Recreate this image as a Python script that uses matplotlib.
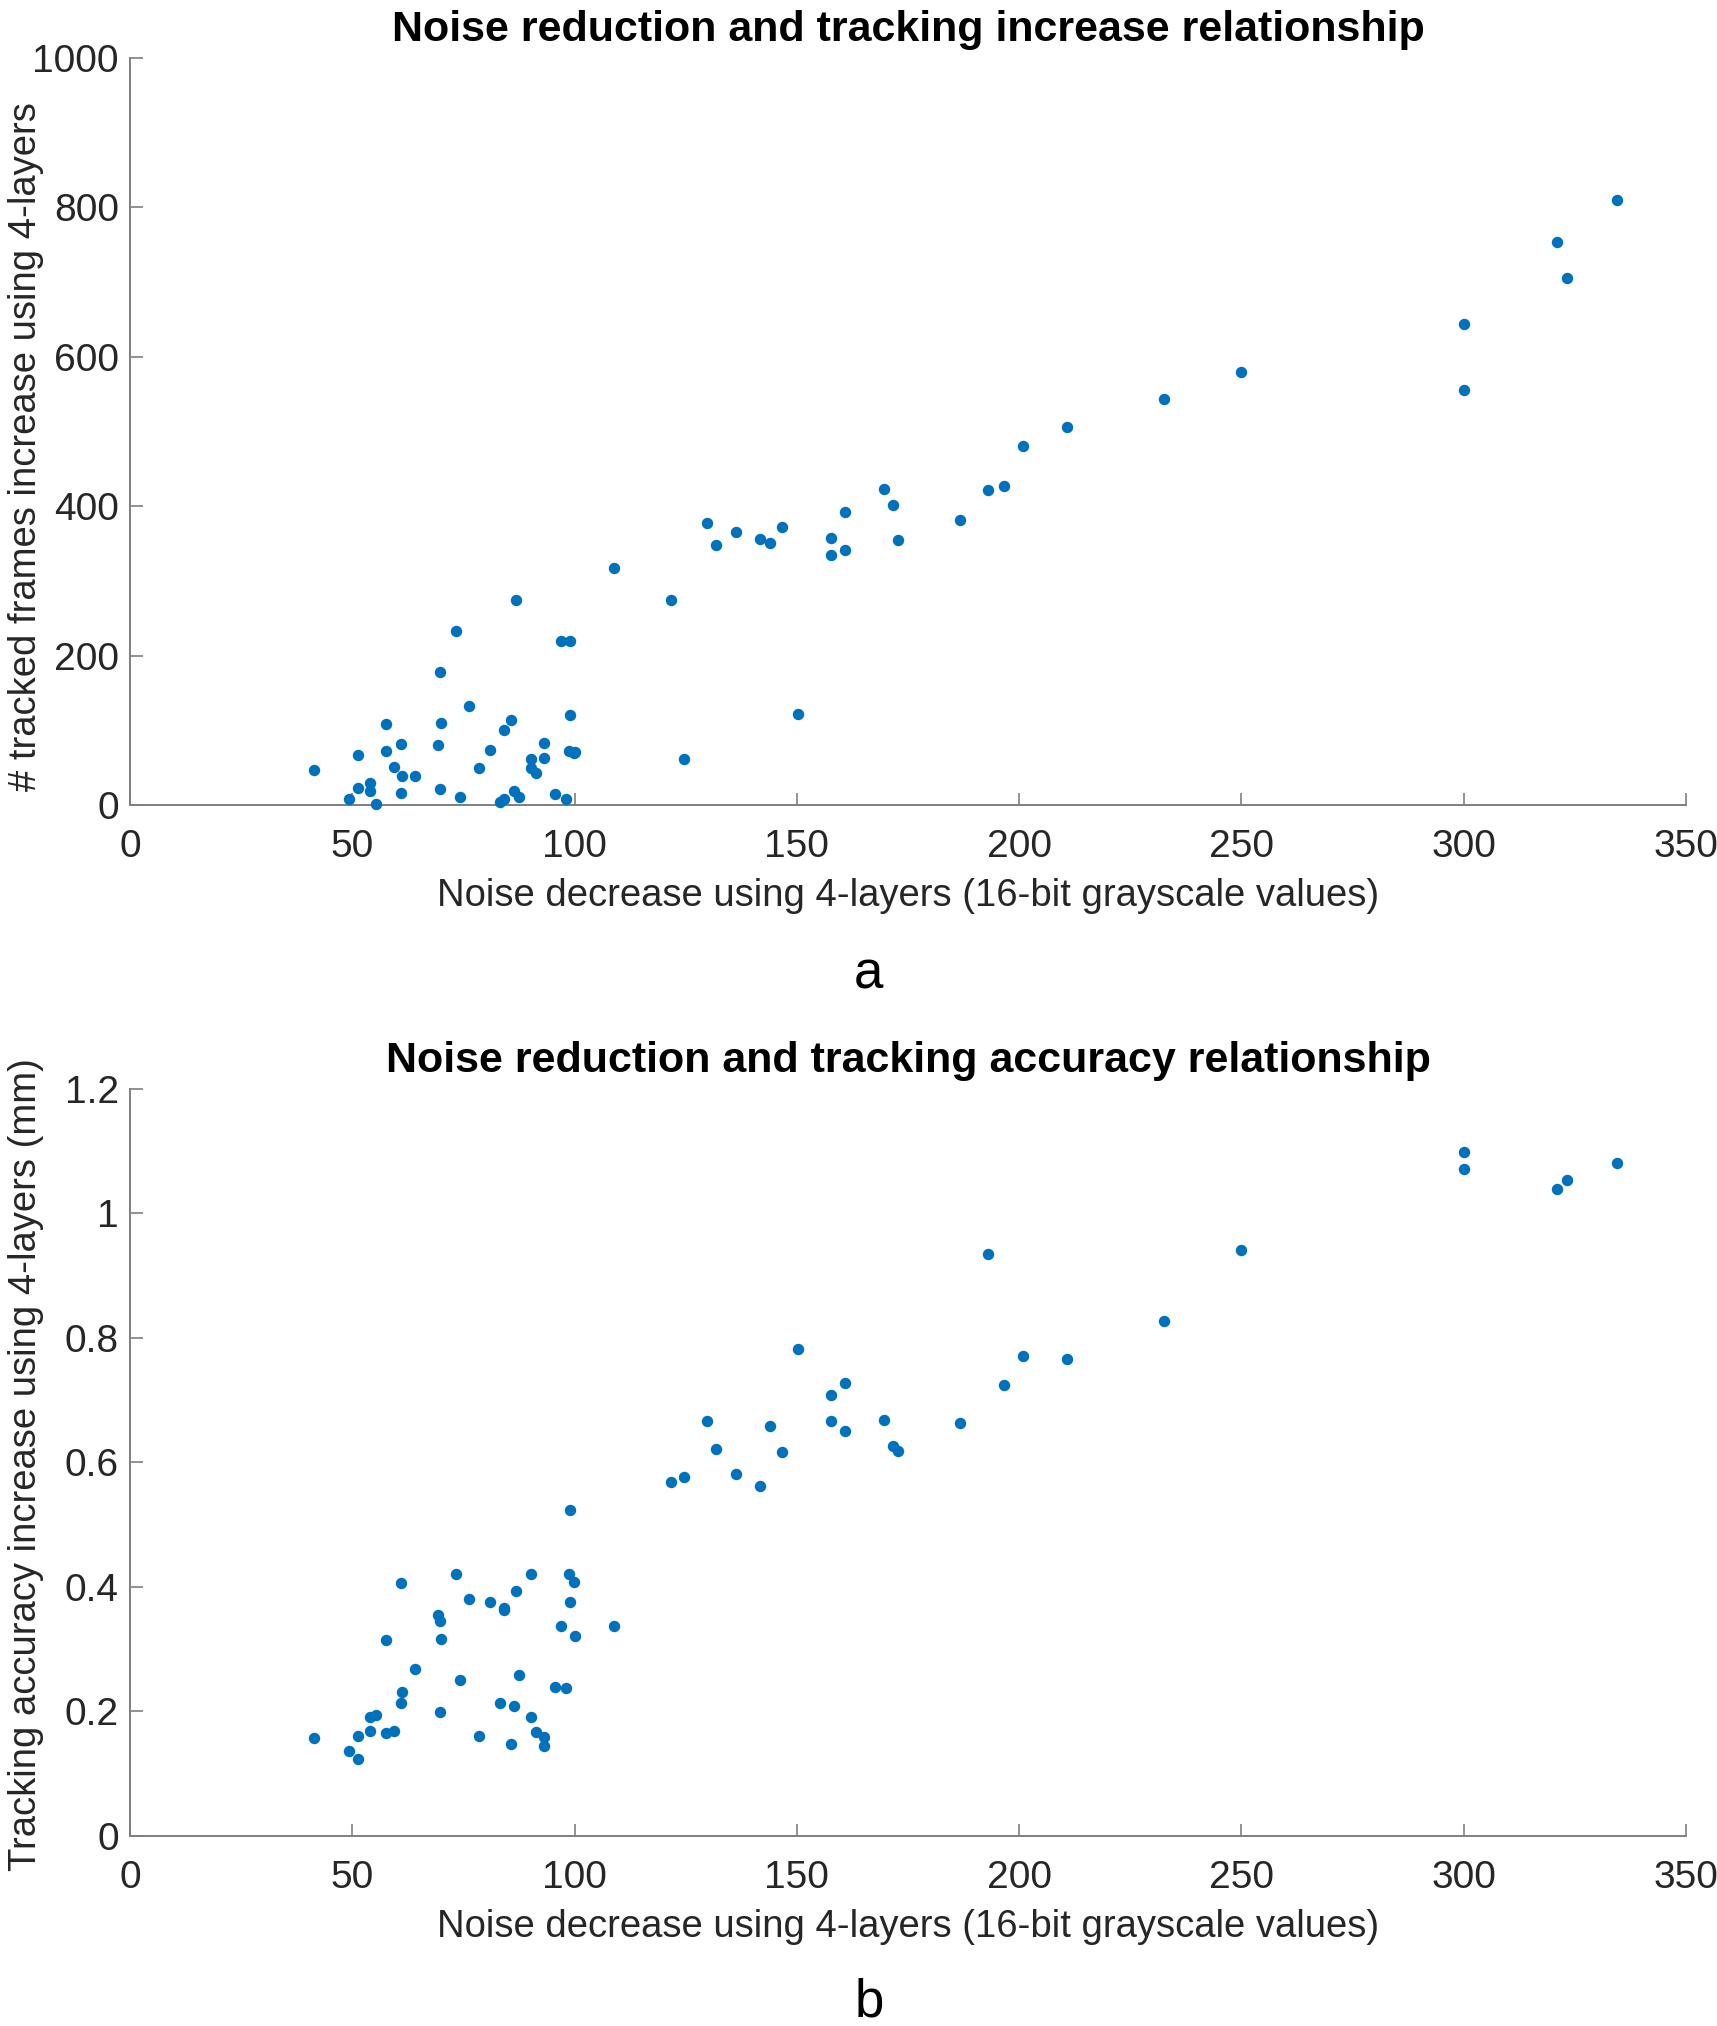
import matplotlib.pyplot as plt
from matplotlib.ticker import FuncFormatter

# noise decrease (shared x for both panels)
noise = [41.3, 49.2, 51.3, 51.3, 54.1, 54.1, 55.3, 57.7, 57.7, 59.3,
         60.9, 60.9, 61.2, 64.2, 69.4, 69.7, 69.7, 70.0, 73.4, 74.2,
         76.3, 78.5, 80.9, 83.2, 84.2, 84.2, 85.6, 86.4, 86.9, 87.4,
         90.2, 90.2, 91.4, 93.1, 93.1, 95.7, 96.9, 98.1, 98.7, 99.0,
         99.0, 99.9, 100.0, 108.8,
         121.8, 124.6, 129.7, 131.9, 136.3, 141.8, 143.9, 146.6, 150.3, 157.6,
         157.6, 160.8, 160.8, 169.6, 171.7, 172.8, 186.8, 193.0, 196.7, 200.8,
         210.8, 232.6, 249.9, 300.1, 300.1, 321.0, 323.2, 334.6]

# tracked frames increase (panel a)
frames = [47, 8, 67, 23, 29, 19, 1, 109, 72, 51,
          81, 16, 39, 39, 80, 178, 21, 110, 233, 10,
          132, 49, 74, 4, 100, 8, 114, 19, 275, 10,
          62, 49, 43, 83, 63, 14, 220, 8, 72, 220,
          121, 69, 71, 317,
          275, 61, 378, 348, 365, 356, 350, 372, 122, 357,
          335, 392, 341, 423, 401, 355, 381, 421, 427, 481,
          506, 544, 579, 556, 644, 754, 706, 810]

# tracking accuracy increase in mm (panel b)
accuracy = [0.158, 0.137, 0.161, 0.124, 0.191, 0.169, 0.195, 0.315, 0.165, 0.169,
            0.406, 0.213, 0.232, 0.269, 0.355, 0.345, 0.199, 0.317, 0.421, 0.250,
            0.381, 0.161, 0.376, 0.213, 0.367, 0.363, 0.148, 0.208, 0.393, 0.258,
            0.421, 0.191, 0.167, 0.159, 0.144, 0.239, 0.337, 0.237, 0.421, 0.523,
            0.376, 0.408, 0.322, 0.337,
            0.569, 0.577, 0.667, 0.621, 0.581, 0.563, 0.658, 0.617, 0.783, 0.708,
            0.667, 0.727, 0.650, 0.669, 0.627, 0.619, 0.663, 0.935, 0.725, 0.771,
            0.766, 0.827, 0.941, 1.098, 1.071, 1.039, 1.054, 1.081]

plt.rcParams['font.family'] = ['Liberation Sans', 'DejaVu Sans']
blue = '#0072BD'
axcol = '#262626'
xlab = 'Noise decrease using 4-layers (16-bit grayscale values)'

fig = plt.figure(figsize=(17.17, 20.26), dpi=100)
ax1 = fig.add_axes([0.0757, 0.6027, 0.9062, 0.3687])
ax2 = fig.add_axes([0.0757, 0.0938, 0.9062, 0.3687])

panels = [
    (ax1, frames, 'Noise reduction and tracking increase relationship',
     '# tracked frames increase using 4-layers', (0, 1000), [0, 200, 400, 600, 800, 1000], 0.48),
    (ax2, accuracy, 'Noise reduction and tracking accuracy relationship',
     'Tracking accuracy increase using 4-layers (mm)', (0, 1.2), [0, 0.2, 0.4, 0.6, 0.8, 1.0, 1.2], 0.497),
]

for ax, yv, title, ylab, ylim, yticks, ly in panels:
    ax.scatter(noise, yv, s=52, color=blue, zorder=3, clip_on=False)
    ax.set_xlim(0, 350)
    ax.set_ylim(*ylim)
    ax.set_xticks([0, 50, 100, 150, 200, 250, 300, 350])
    ax.set_yticks(yticks)
    ax.yaxis.set_major_formatter(FuncFormatter(lambda v, p: f'{v:g}'))
    for side in ['top', 'right']:
        ax.spines[side].set_visible(False)
    for side in ['left', 'bottom']:
        ax.spines[side].set_color('#7f7f7f')
        ax.spines[side].set_linewidth(1.4)
    ax.tick_params(direction='in', length=9, width=1.2, color='#7f7f7f',
                   labelsize=28, labelcolor=axcol)
    ax.tick_params(axis='x', pad=17)
    ax.tick_params(axis='y', pad=8)
    ax.set_title(title, fontsize=31, fontweight='bold', color='black', pad=12)
    ax.set_xlabel(xlab, fontsize=27.5, color=axcol, labelpad=10)
    ax.set_ylabel(ylab, fontsize=27.5, color=axcol)
    ax.yaxis.set_label_coords(-0.0555, ly)

fig.text(0.5055, 0.519, 'a', fontsize=38, ha='center', va='center', color='black')
fig.text(0.5061, 0.0115, 'b', fontsize=38, ha='center', va='center', color='black')

fig.savefig('out.png', dpi=100, facecolor='white')
